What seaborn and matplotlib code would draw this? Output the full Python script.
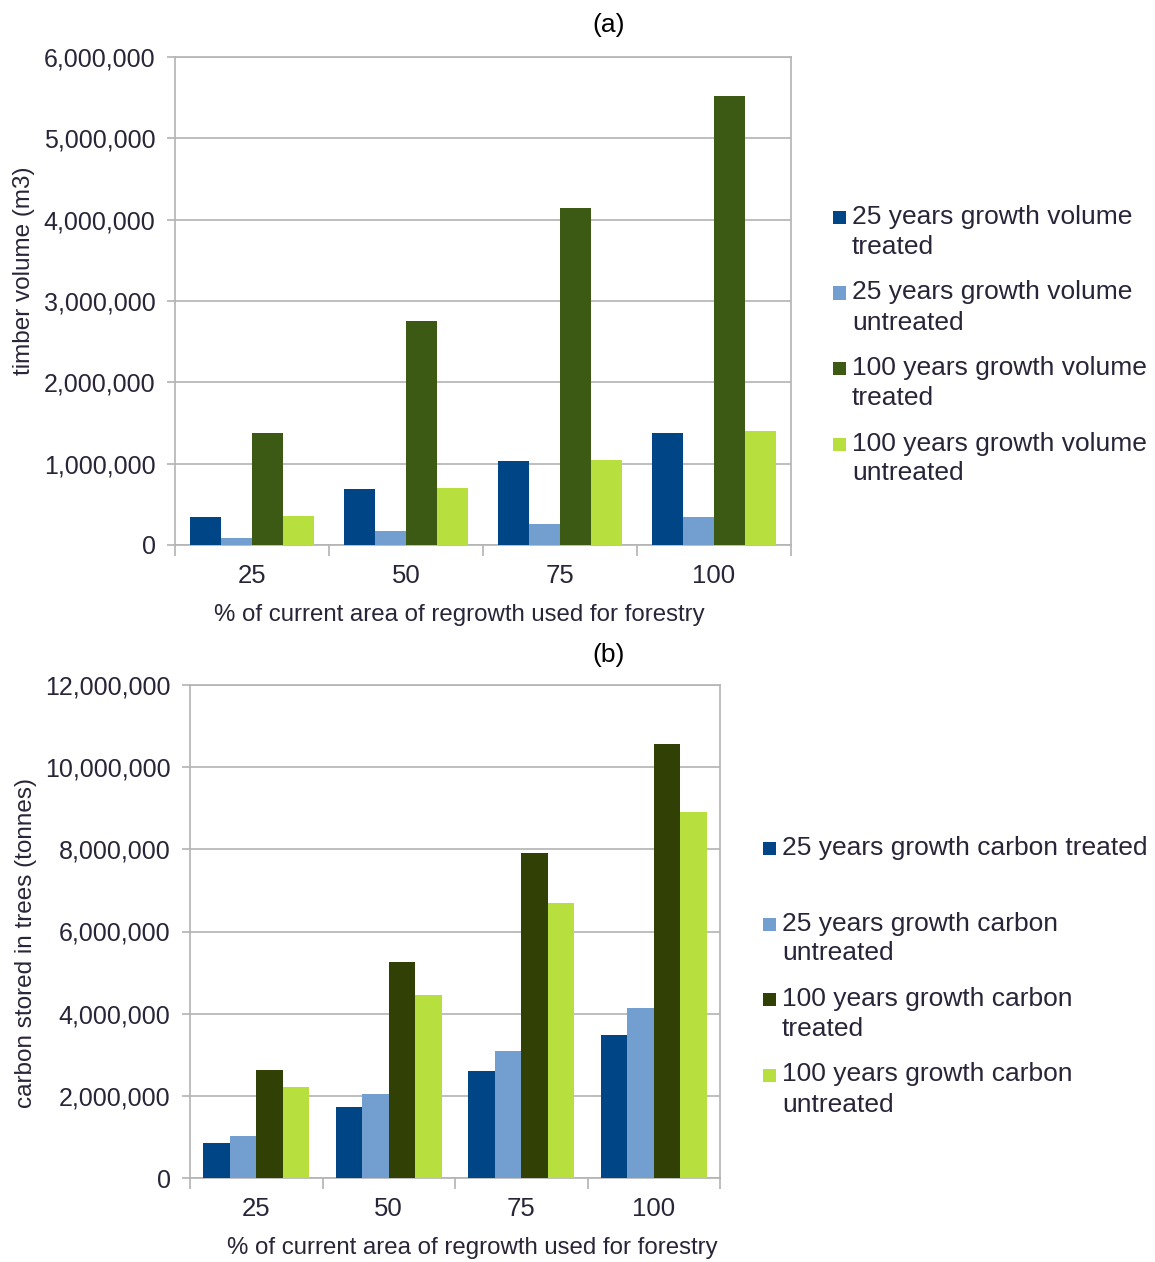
import numpy as np
import pandas as pd
import matplotlib
matplotlib.use("Agg")
import matplotlib.pyplot as plt
from matplotlib.patches import Rectangle
from matplotlib.ticker import FuncFormatter, MultipleLocator, FixedLocator
import seaborn as sns

# ---- data ----
area_pct = ["25", "50", "75", "100"]

vol_labels = [
    "25 years growth volume\ntreated",
    "25 years growth volume\nuntreated",
    "100 years growth volume\ntreated",
    "100 years growth volume\nuntreated",
]
vol_25_treated = [345000, 690000, 1035000, 1380000]
vol_25_untreated = [86000, 172000, 260000, 350000]
vol_100_treated = [1380000, 2755000, 4145000, 5520000]
vol_100_untreated = [355000, 700000, 1050000, 1400000]

carb_labels = [
    "25 years growth carbon treated",
    "25 years growth carbon\nuntreated",
    "100 years growth carbon\ntreated",
    "100 years growth carbon\nuntreated",
]
carb_25_treated = [850000, 1730000, 2600000, 3480000]
carb_25_untreated = [1020000, 2040000, 3090000, 4140000]
carb_100_treated = [2630000, 5260000, 7910000, 10560000]
carb_100_untreated = [2215000, 4450000, 6690000, 8910000]

vol_colors = ["#004586", "#729fcf", "#3c5a14", "#b7e03f"]
carb_colors = ["#004586", "#729fcf", "#314004", "#b7e03f"]

TXT = "#2a2438"
GRID = "#b3b3b3"
W, H = 1155, 1262


def long_df(labels, series):
    rows = []
    for lab, vals in zip(labels, series):
        for a, v in zip(area_pct, vals):
            rows.append({"area": a, "series": lab, "value": v})
    return pd.DataFrame(rows)


def px(x, y):
    return x / W, 1 - y / H


sns.set_theme(style="white")
plt.rcParams["font.family"] = ["Liberation Sans", "DejaVu Sans"]
plt.rcParams["text.color"] = TXT

fig = plt.figure(figsize=(W / 100, H / 100), dpi=100)


def draw_panel(rect, labels, series, colors, ymax, ystep, ylabel,
               ylab_pos, xlab_pos, legend_x, legend_y0):
    ax = fig.add_axes(rect)
    df = long_df(labels, series)
    sns.barplot(data=df, x="area", y="value", hue="series", order=area_pct,
                hue_order=labels, palette=colors, saturation=1, width=0.8,
                linewidth=0, legend=False, ax=ax, zorder=3)
    ax.set_ylim(0, ymax)
    ax.set_xlim(-0.5, len(area_pct) - 0.5)
    ax.yaxis.set_major_locator(MultipleLocator(ystep))
    ax.yaxis.set_major_formatter(FuncFormatter(lambda v, p: f"{int(v):,}"))
    ax.grid(axis="y", color=GRID, lw=1.2, zorder=0)
    ax.set_axisbelow(True)
    for s in ax.spines.values():
        s.set_visible(True)
        s.set_color(GRID)
        s.set_linewidth(1.2)
    ax.xaxis.set_minor_locator(FixedLocator(np.arange(-0.5, len(area_pct), 1.0)))
    ax.tick_params(axis="x", which="major", length=0, pad=14, labelsize=18.5,
                   labelcolor=TXT)
    ax.tick_params(axis="x", which="minor", length=8, width=1.2, color=GRID,
                   bottom=True)
    ax.tick_params(axis="y", length=6, width=1.2, color=GRID, pad=8,
                   labelsize=18, labelcolor=TXT, left=True)
    ax.set_xlabel("% of current area of regrowth used for forestry",
                  fontsize=17.3, color=TXT)
    ax.xaxis.set_label_coords(*xlab_pos)
    ax.set_ylabel(ylabel, fontsize=17.5, color=TXT)
    ax.yaxis.set_label_coords(*ylab_pos)

    # legend, drawn by hand so the swatch sits on the first text line
    y = legend_y0
    for lab, col in zip(labels, colors):
        sx, sy = px(legend_x - 19, y + 7)
        fig.add_artist(Rectangle((sx, sy), 13 / W, 13 / H,
                                 transform=fig.transFigure,
                                 facecolor=col, edgecolor="none"))
        lines = lab.split("\n")
        for i, line in enumerate(lines):
            tx, ty = px(legend_x, y + i * 30)
            fig.text(tx, ty, line, fontsize=19, color=TXT,
                     ha="left", va="center")
        y += 75.5
    return ax


# panel (a)
draw_panel([175 / W, 1 - 545 / H, 616 / W, 488 / H],
           vol_labels,
           [vol_25_treated, vol_25_untreated, vol_100_treated, vol_100_untreated],
           vol_colors, 6000000, 1000000, "timber volume (m3)",
           (-0.227, 0.561), (0.461, -0.121), 852, 217)

# panel (b)
draw_panel([190 / W, 1 - 1178 / H, 530 / W, 493 / H],
           carb_labels,
           [carb_25_treated, carb_25_untreated, carb_100_treated, carb_100_untreated],
           carb_colors, 12000000, 2000000, "carbon stored in trees (tonnes)",
           (-0.289, 0.477), (0.532, -0.12), 782, 848)

fig.text(*px(609, 25), "(a)", fontsize=19, color="black", ha="center", va="center")
fig.text(*px(609, 655), "(b)", fontsize=19, color="black", ha="center", va="center")

fig.savefig("out.png", dpi=100, facecolor="white")
